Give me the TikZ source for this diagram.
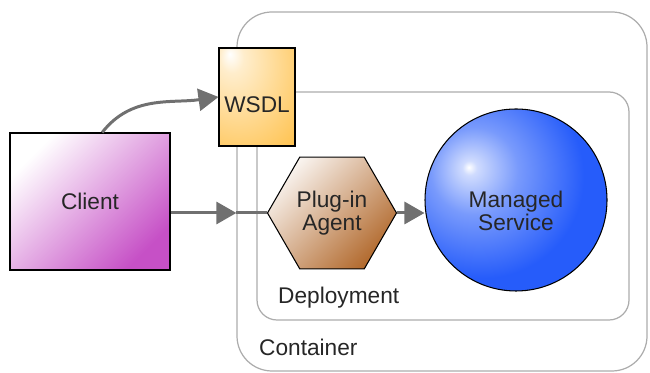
\documentclass[tikz,border=0pt]{standalone}
\usepackage{fontspec}
\setmainfont{Liberation Sans}
\usetikzlibrary{arrows.meta,shapes,positioning,calc}
\definecolor{framegray}{RGB}{172,172,172}
\definecolor{flowgray}{RGB}{112,112,112}
\definecolor{clientpurple}{RGB}{198,80,198}
\definecolor{wsdlorange}{RGB}{255,196,84}
\definecolor{agentbrown}{RGB}{178,106,46}
\definecolor{svcblue}{RGB}{38,92,250}
\pgfdeclareradialshading{servicesphere}{\pgfpoint{-13bp}{9bp}}{%
  color(0bp)=(white); color(2bp)=(svcblue!22!white);
  color(12bp)=(svcblue!62!white); color(28bp)=(svcblue); color(100bp)=(svcblue)}
\pgfdeclareradialshading{wsdlglow}{\pgfpoint{-18bp}{22bp}}{%
  color(0bp)=(white); color(8bp)=(wsdlorange!30!white);
  color(48bp)=(wsdlorange); color(100bp)=(wsdlorange)}

\begin{document}
\begin{tikzpicture}[
    every node/.style={font=\fontsize{12.9}{13.4}\selectfont, text=black!85},
    frame/.style={rectangle, draw=framegray, line width=0.7pt, inner sep=0pt},
    clientbox/.style={rectangle, draw=black, line width=0.6pt, inner sep=0pt,
                      top color=white, bottom color=clientpurple, shading angle=45,
                      minimum width=3.2cm, minimum height=2.74cm},
    wsdlbox/.style={rectangle, draw=black, line width=0.6pt, inner sep=0pt,
                    shading=wsdlglow, minimum width=1.52cm, minimum height=1.96cm},
    agent/.style={regular polygon, regular polygon sides=6, draw=black, line width=0.6pt,
                  inner sep=0pt, minimum size=2.58cm, align=center,
                  top color=agentbrown!8!white, bottom color=agentbrown, shading angle=45},
    service/.style={circle, draw=black, line width=0.6pt, inner sep=0pt,
                    minimum size=3.64cm, shading=servicesphere},
    flow/.style={draw=flowgray, line width=1.7pt, -{Triangle[length=0.4cm, width=0.44cm]}},
    plain/.style={draw=flowgray, line width=1.7pt}
]
    \useasboundingbox (0,0) rectangle (13,7.46);

    % Container and deployment
    \node[frame, rounded corners=0.7cm, minimum width=8.2cm, minimum height=7.18cm]
        (container) at (8.84, 3.63) {};
    \node[frame, rounded corners=0.4cm, minimum width=7.44cm, minimum height=4.56cm]
        (deployment) at (8.86, 3.34) {};
    \node[anchor=west] (deplabel) at (5.44, 1.5) {Deployment};
    \node[anchor=west] (contlabel) at (5.06, 0.52) {Container};

    % Client and WSDL
    \node[clientbox] (client) at (1.8, 3.43) {Client};
    \node[wsdlbox] (wsdl) at (5.14, 5.52) {};
    \node[yshift=-0.16cm] (wsdllabel) at (wsdl) {WSDL};

    % Agent and service
    \node[agent] (agent) at (6.64, 3.2) {Plug-in\\Agent};
    \node[service] (service) at (10.32, 3.46) {};
    \node[align=center, yshift=-0.22cm] (svclabel) at (service) {Managed\\Service};

    % Arrows
    \coordinate (entry) at (container.west |- agent.west);
    \draw[flow] (client.80) to[out=52, in=188] (wsdl.west);
    \draw[flow] (client.east |- agent.west) -- (entry);
    \draw[plain] (entry) -- (agent.west);
    \draw[flow] (agent.east) -- (agent.east -| service.west);
\end{tikzpicture}
\end{document}
